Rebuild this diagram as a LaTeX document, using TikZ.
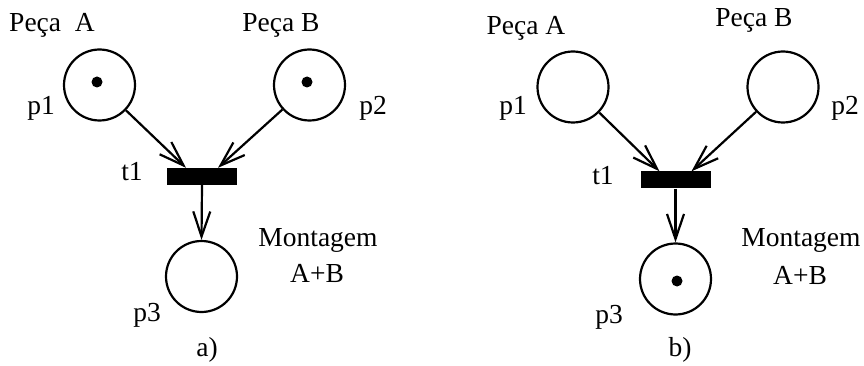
\documentclass[tikz,border=0pt]{standalone}
\usepackage{fontspec}
\setmainfont{Liberation Serif}
\usetikzlibrary{arrows.meta,calc}
\begin{document}
\begin{tikzpicture}[x=1pt,y=-1pt,
  place/.style={circle,draw,line width=2.2pt,minimum size=71pt,inner sep=0pt},
  token/.style={circle,fill,minimum size=11pt,inner sep=0pt},
  trans/.style={rectangle,fill,minimum width=70pt,minimum height=17pt,inner sep=0pt},
  lbl/.style={inner sep=0pt,font=\fontsize{27.5}{32}\selectfont},
  arc/.style={line width=2.2pt,-{Straight Barb[length=25pt,width=17pt,line width=2.2pt]}}]
\useasboundingbox (0,0) rectangle (864,366);

% ---- a) token in p1 and p2
\node[place] (ap1) at (99.5,85) {};
\node[place] (ap2) at (309.5,85) {};
\node[trans] (at1) at (202,176.5) {};
\node[place] (ap3) at (201.5,276.5) {};
\node[token] (ak1) at (97,82) {};
\node[token] (ak2) at (307,82) {};
\coordinate (ain1) at ($(at1.north)+(-16,0)$);
\coordinate (ain2) at ($(at1.north)+(16,0)$);
\draw[arc] (ap1) -- (ain1);
\draw[arc] (ap2) -- (ain2);
\draw[arc] (at1.south) -- (ap3.north);
\node[lbl] (aA) at (52,25) {Peça\ \ A};
\node[lbl] (aB) at (281,25) {Peça B};
\node[lbl] (alp1) at (41,108) {p1};
\node[lbl] (alp2) at (373,108) {p2};
\node[lbl] (alt1) at (132,172) {t1};
\node[lbl] (alp3) at (147,315) {p3};
\node[lbl] (am) at (318,240) {Montagem};
\node[lbl] (aab) at (317,273) {A+B};
\node[lbl] (acap) at (207,350) {a)};

% ---- b) token in p3
\node[place] (bp1) at (573,87) {};
\node[place] (bp2) at (783,87) {};
\node[trans] (bt1) at (675.5,180) {};
\node[place] (bp3) at (675.5,279) {};
\node[token] (bk3) at (677,281) {};
\coordinate (bin1) at ($(bt1.north)+(-16,0)$);
\coordinate (bin2) at ($(bt1.north)+(16,0)$);
\draw[arc] (bp1) -- (bin1);
\draw[arc] (bp2) -- (bin2);
\draw[arc] (bt1.south) -- (bp3.north);
\node[lbl] (bA) at (526,28) {Peça A};
\node[lbl] (bB) at (754,20) {Peça B};
\node[lbl] (blp1) at (513,108) {p1};
\node[lbl] (blp2) at (845,108) {p2};
\node[lbl] (blt1) at (603,176) {t1};
\node[lbl] (blp3) at (609,317) {p3};
\node[lbl] (bm) at (801,240) {Montagem};
\node[lbl] (bab) at (800,275) {A+B};
\node[lbl] (bcap) at (680,350) {b)};
\end{tikzpicture}
\end{document}
